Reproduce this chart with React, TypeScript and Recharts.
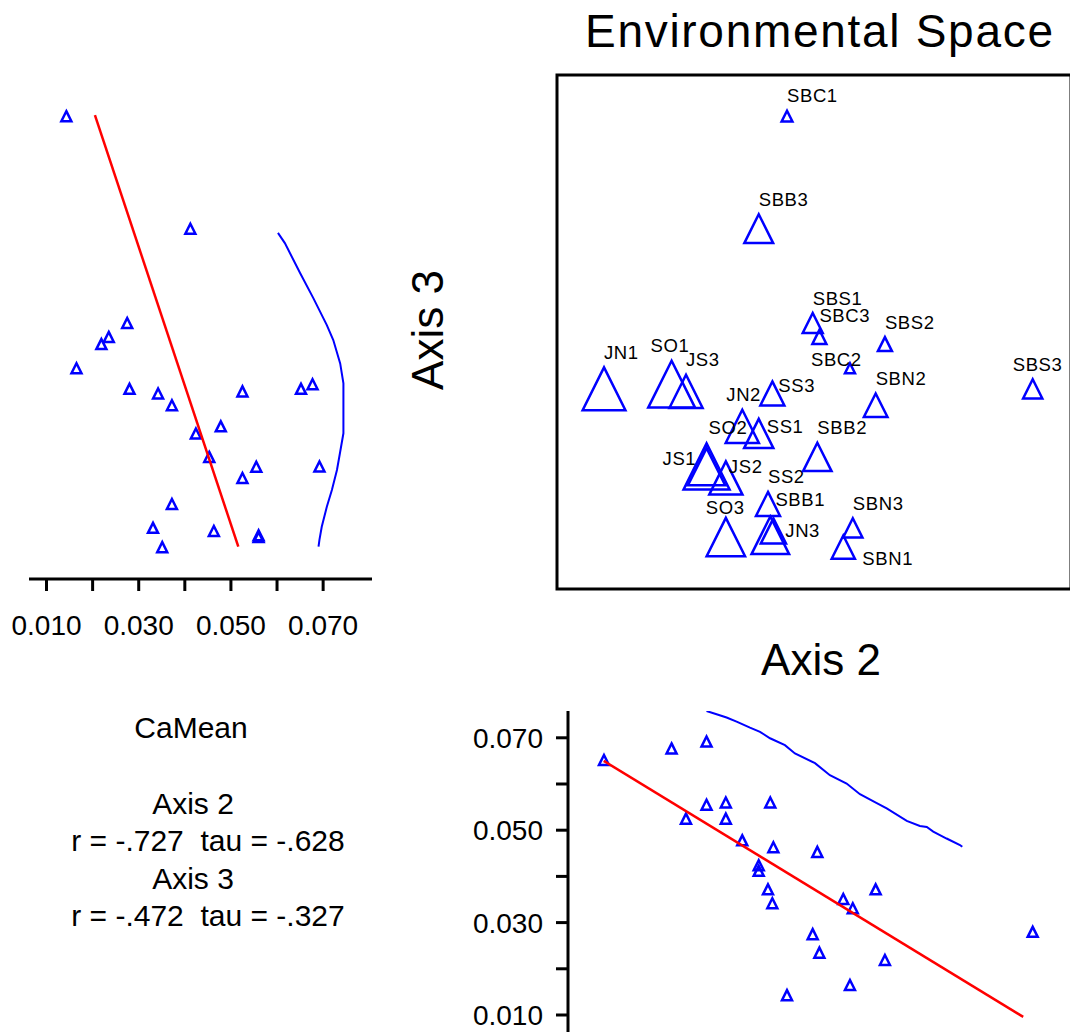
import React from "react";
import { ScatterChart, Scatter, XAxis, YAxis, ReferenceArea } from "recharts";

// Sites with their NMS scores on axes 2 and 3
const sites = [
  "JN1", "JN2", "JN3", "JS1", "JS2", "JS3", "SO1", "SO2", "SO3", "SS1", "SS2", "SS3",
  "SBB1", "SBB2", "SBB3", "SBC1", "SBC2", "SBC3", "SBN1", "SBN2", "SBN3", "SBS1", "SBS2", "SBS3",
];
const axis2Scores = [
  -0.817, -0.279, -0.17, -0.418, -0.343, -0.498, -0.554, -0.418, -0.343, -0.215, -0.179, -0.162,
  -0.158, 0.013, -0.215, -0.105, 0.14, 0.021, 0.114, 0.24, 0.151, -0.005, 0.276, 0.851,
];
const axis3Scores = [
  -0.221, -0.367, -0.791, -0.523, -0.568, -0.231, -0.203, -0.524, -0.798, -0.395, -0.669, -0.239,
  -0.774, -0.486, 0.402, 0.84, -0.141, -0.019, -0.837, -0.285, -0.762, 0.035, -0.047, -0.221,
];
const caMean = [
  0.0652, 0.0478, 0.056, 0.0692, 0.0525, 0.0525, 0.0677, 0.0555, 0.056, 0.0424, 0.0372, 0.0342,
  0.0463, 0.0453, 0.0412, 0.0143, 0.0165, 0.0235, 0.0351, 0.0372, 0.0331, 0.0275, 0.0219, 0.028,
];
// overlay variable shown by symbol size in the ordination (relative units)
const overlay = [
  0.87, 0.63, 0.74, 0.95, 0.63, 0.63, 0.97, 0.73, 0.76, 0.53, 0.4, 0.4,
  0.43, 0.51, 0.52, 0.07, 0.05, 0.15, 0.38, 0.39, 0.28, 0.3, 0.15, 0.28,
];

// CaMean against axis 3: fitted line and upper smooth
const ax3FitScore = [0.844, -0.835];
const ax3FitCa = [0.0205, 0.0516];
const ax3SmoothScore = [
  0.386, 0.346, 0.23, 0.131, 0.027, -0.031, -0.122, -0.2, -0.394, -0.466, -0.537, -0.615, -0.68,
  -0.758, -0.809, -0.835,
];
const ax3SmoothCa = [
  0.0602, 0.0617, 0.065, 0.0679, 0.0708, 0.0722, 0.0737, 0.0744, 0.0744, 0.0737, 0.073, 0.0719,
  0.0708, 0.0697, 0.0692, 0.069,
];

// CaMean against axis 2: fitted line and upper smooth
const ax2FitScore = [-0.818, 0.814];
const ax2FitCa = [0.065, 0.0096];
const ax2SmoothScore = [
  -0.418, -0.379, -0.34, -0.301, -0.249, -0.21, -0.171, -0.113, -0.074, 0.004, 0.062, 0.127, 0.179,
  0.237, 0.283, 0.361, 0.412, 0.439, 0.464, 0.516, 0.568, 0.577,
];
const ax2SmoothCa = [
  0.0758, 0.0751, 0.0744, 0.0735, 0.0722, 0.0713, 0.0699, 0.0684, 0.0666, 0.0645, 0.0619, 0.0601,
  0.0578, 0.0561, 0.0547, 0.052, 0.0509, 0.0507, 0.0497, 0.0482, 0.0468, 0.0464,
];

const caTicks = [0.01, 0.02, 0.03, 0.04, 0.05, 0.06, 0.07];
const caTickLabels = ["0.010", "", "0.030", "", "0.050", "", "0.070"];

const statLines = ["Axis 2", "r = -.727  tau = -.628", "Axis 3", "r = -.472  tau = -.327"];

const FONT = "'Liberation Sans', Arial, sans-serif";
const BLUE = "#0000ff";
const RED = "#ff0000";
const axisStyle = { stroke: "#000", strokeWidth: 3 };

// label nudges where the plotting program moved crowded labels
const labelNudge: Record<string, [number, number]> = {
  SO1: [-21, 0], SS3: [6, 19], JN2: [-16, 0], SO2: [2, -6], SS1: [8, 23], JS1: [-44, 30],
  JS2: [3, 20], SBB1: [2, -4], JN3: [15, 29], SO3: [-20, 5], SBN1: [19, 38], SBC2: [-39, 11],
  SBS3: [-20, 0], SBC3: [0, 1],
};

const sitePoints = sites.map((name, i) => ({ name, x: axis2Scores[i], y: axis3Scores[i], z: overlay[i] }));
const caVsAxis3 = sites.map((_, i) => ({ x: caMean[i], y: axis3Scores[i] }));
const caVsAxis2 = sites.map((_, i) => ({ x: axis2Scores[i], y: caMean[i] }));
const pairs = (xs: number[], ys: number[]) => xs.map((x, i) => ({ x, y: ys[i] }));

const triangle = (cx: number, cy: number, w: number) =>
  `M${cx},${cy - w / 2}L${cx + w / 2},${cy + w / 2}L${cx - w / 2},${cy + w / 2}Z`;

function SiteSymbol(props: any) {
  const { cx, cy, payload } = props;
  const w = 8 + 40 * payload.z;
  const [dx, dy] = labelNudge[payload.name] ?? [0, 0];
  return (
    <g>
      <path d={triangle(cx, cy, w)} fill="none" stroke={BLUE} strokeWidth={2.5} />
      <text x={cx + dx} y={cy - w / 2 - 8.5 + dy} fontSize={18.5} fontFamily={FONT} fill="#000" letterSpacing={0.6}>
        {payload.name}
      </text>
    </g>
  );
}

function SmallTriangle(props: any) {
  return <path d={triangle(props.cx, props.cy, 10)} fill="none" stroke={BLUE} strokeWidth={2.5} />;
}

const NoPoint = () => <g />;
const formatCa = (v: number) => caTickLabels[caTicks.indexOf(v)] ?? "";

function BottomTick(props: any) {
  const { x, y, payload } = props;
  return (
    <text x={x} y={y} dy="0.71em" textAnchor="middle" fontSize={28} fontFamily={FONT} fill="#000">
      {formatCa(payload.value)}
    </text>
  );
}

function LeftTick(props: any) {
  const { x, y, payload } = props;
  return (
    <text x={x} y={y} dy="0.355em" textAnchor="end" fontSize={28} fontFamily={FONT} fill="#000">
      {formatCa(payload.value)}
    </text>
  );
}

export default function App() {
  return (
    <div style={{ position: "absolute", left: 0, top: 0, width: 1070, height: 1034, overflow: "hidden", background: "#fff" }}>
      {/* CaMean vs axis 3 */}
      <div style={{ position: "absolute", left: 0, top: 0 }}>
        <ScatterChart width={1070} height={1034} margin={{ top: 73, left: 29, right: 698, bottom: 395 }}>
          <XAxis
            type="number" dataKey="x" domain={[0.0062, 0.0806]} allowDataOverflow
            ticks={caTicks} interval={0} height={60}
            tickSize={12} tickMargin={24} tick={<BottomTick />}
            axisLine={axisStyle} tickLine={axisStyle}
          />
          <YAxis type="number" dataKey="y" domain={[-0.961, 1.008]} allowDataOverflow width={0} tick={false} tickLine={false} axisLine={axisStyle} />
          <Scatter data={caVsAxis3} shape={SmallTriangle} isAnimationActive={false} />
          <Scatter data={pairs(ax3FitCa, ax3FitScore)} shape={NoPoint} line={{ stroke: RED, strokeWidth: 2.5, fill: "none" }} isAnimationActive={false} />
          <Scatter data={pairs(ax3SmoothCa, ax3SmoothScore)} shape={NoPoint} line={{ stroke: BLUE, strokeWidth: 2, fill: "none" }} isAnimationActive={false} />
        </ScatterChart>
      </div>

      {/* ordination of sites */}
      <div style={{ position: "absolute", left: 0, top: 0 }}>
        <ScatterChart width={1072} height={1034} margin={{ top: 75, left: 557, right: 1, bottom: 445 }}>
          <XAxis type="number" dataKey="x" domain={[-1, 1]} allowDataOverflow hide />
          <YAxis type="number" dataKey="y" domain={[-1, 1]} allowDataOverflow hide />
          <ReferenceArea x1={-1} x2={1} y1={-1} y2={1} fill="none" stroke="#000" strokeWidth={3} ifOverflow="visible" />
          <Scatter data={sitePoints} shape={SiteSymbol} isAnimationActive={false} />
        </ScatterChart>
      </div>

      {/* CaMean vs axis 2 */}
      <div style={{ position: "absolute", left: 0, top: 0 }}>
        <ScatterChart width={1072} height={1034} margin={{ top: 711, left: 448, right: 1, bottom: 2 }}>
          <XAxis type="number" dataKey="x" domain={[-0.957, 1]} allowDataOverflow height={0} tick={false} tickLine={false} axisLine={axisStyle} />
          <YAxis
            type="number" dataKey="y" domain={[0.00632, 0.0758]} allowDataOverflow width={120}
            ticks={caTicks} interval={0}
            tickSize={12} tickMargin={13} tick={<LeftTick />}
            axisLine={axisStyle} tickLine={axisStyle}
          />
          <Scatter data={caVsAxis2} shape={SmallTriangle} isAnimationActive={false} />
          <Scatter data={pairs(ax2FitScore, ax2FitCa)} shape={NoPoint} line={{ stroke: RED, strokeWidth: 2.5, fill: "none" }} isAnimationActive={false} />
          <Scatter data={pairs(ax2SmoothScore, ax2SmoothCa)} shape={NoPoint} line={{ stroke: BLUE, strokeWidth: 2, fill: "none" }} isAnimationActive={false} />
        </ScatterChart>
      </div>

      <svg width={1070} height={1034} style={{ position: "absolute", left: 0, top: 0, pointerEvents: "none" }} fontFamily={FONT}>
        <text x={819} y={47} fontSize={46} textAnchor="middle" textLength={468} lengthAdjust="spacing">
          Environmental Space
        </text>
        <text transform="translate(443,330) rotate(-90)" fontSize={44} textAnchor="middle">
          Axis 3
        </text>
        <text x={821} y={675} fontSize={44} textAnchor="middle">
          Axis 2
        </text>
        <text x={191} y={738} fontSize={30} textAnchor="middle">
          CaMean
        </text>
        {statLines.map((line, i) => (
          <text key={i} x={i % 2 === 0 ? 193 : 208} y={814 + i * 37.3} fontSize={30} textAnchor="middle" style={{ whiteSpace: "pre" }}>
            {line}
          </text>
        ))}
      </svg>
    </div>
  );
}
